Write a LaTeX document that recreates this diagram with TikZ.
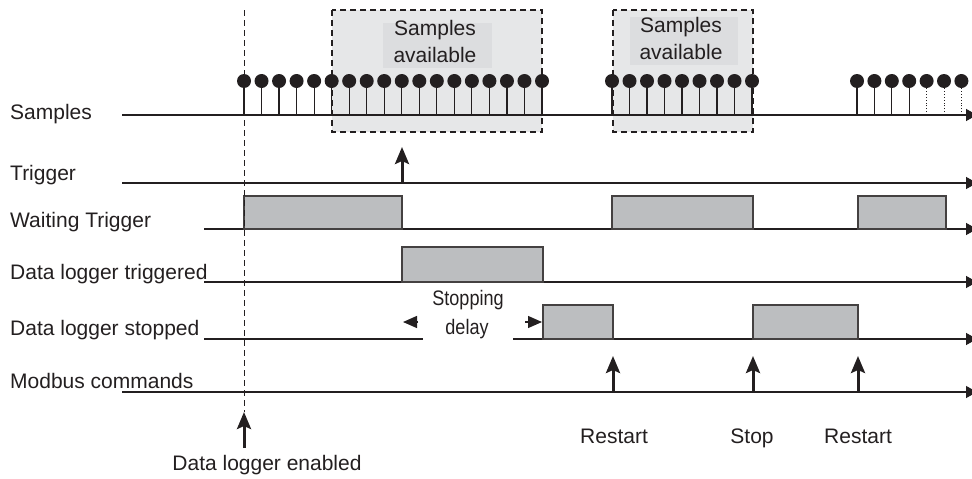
\documentclass[tikz,border=0pt]{standalone}
\usepackage{fontspec}
\setmainfont{Liberation Sans}
\usetikzlibrary{arrows.meta}
\definecolor{ink}{HTML}{231F20}
\definecolor{boxgray}{HTML}{BCBEC0}
\definecolor{availgray}{HTML}{E6E7E8}
\definecolor{innergray}{HTML}{DCDDDF}
\begin{document}
\begin{tikzpicture}[x=1pt,y=-1pt,
  lbl/.style={anchor=base west, inner sep=0pt, font=\fontsize{21}{25}\selectfont, text=ink},
  ctr/.style={anchor=base, inner sep=0pt, font=\fontsize{21}{25}\selectfont, text=ink},
  narrow/.style={anchor=base, inner sep=0pt, font=\fontsize{21}{25}\selectfont, text=ink, xscale=0.86},
  axisline/.style={draw=ink, line width=1.3pt, -{Triangle[length=11pt,width=12pt]}},
  plainline/.style={draw=ink, line width=1.3pt},
  pulse/.style={draw=ink!85, fill=boxgray, line width=1.3pt},
  evarrow/.style={draw=ink, line width=3pt, -{Stealth[length=17pt,width=14pt,inset=3pt]}},
  availbox/.style={draw=ink, fill=availgray, line width=1.8pt, dash pattern=on 6pt off 4pt},
  innerbox/.style={fill=innergray, draw=none},
  stem/.style={draw=ink, line width=1.2pt},
  dotstem/.style={draw=ink, line width=0.9pt, dotted},
  dot/.style={fill=ink},
  smalltip/.style={-{Triangle[length=14pt,width=12pt]}, draw=ink, line width=1.3pt}
]
\useasboundingbox (0,0) rectangle (972,479);

% ---- Samples available regions ----
\path[availbox] (332,10) rectangle (542,132);
\path[innerbox] (383,23) rectangle (492,68);
\node[ctr] (sa1a) at (435,35) {Samples};
\node[ctr] (sa1b) at (435,62) {available};
\path[availbox] (613,10) rectangle (753,132);
\path[innerbox] (630,17) rectangle (738,65);
\node[ctr] (sa2a) at (681,32) {Samples};
\node[ctr] (sa2b) at (681,59) {available};

% ---- row labels ----
\node[lbl] (lsamp) at (10,119) {Samples};
\node[lbl] (ltrig) at (10,180) {Trigger};
\node[lbl] (lwait) at (10,227) {Waiting Trigger};
\node[lbl] (ltrd)  at (10,279) {Data logger triggered};
\node[lbl] (lstop) at (10,335) {Data logger stopped};
\node[lbl] (lmod)  at (10,388) {Modbus commands};

% ---- axis coordinates ----
\coordinate (s0) at (122,115);  \coordinate (s1) at (977,115);
\coordinate (t0) at (122,183);  \coordinate (t1) at (977,183);
\coordinate (w0) at (204,229);  \coordinate (w1) at (977,229);
\coordinate (d0) at (204,282);  \coordinate (d1) at (977,282);
\coordinate (p0) at (204,339);  \coordinate (pa) at (423,339);
\coordinate (pb) at (513,339);  \coordinate (p1) at (977,339);
\coordinate (m0) at (122,392);  \coordinate (m1) at (977,392);

\draw[axisline] (s0) -- (s1);
\draw[axisline] (t0) -- (t1);
\draw[axisline] (w0) -- (w1);
\draw[axisline] (d0) -- (d1);
\draw[plainline] (p0) -- (pa);
\draw[axisline] (pb) -- (p1);
\draw[axisline] (m0) -- (m1);

% ---- samples ----
\foreach \i in {0,...,17} {
  \pgfmathsetmacro{\xx}{244+17.53*\i}
  \draw[stem] (\xx,115) -- (\xx,81);
  \fill[dot] (\xx,81) circle (7);
}
\foreach \i in {0,...,8} {
  \pgfmathsetmacro{\xx}{612+17.5*\i}
  \draw[stem] (\xx,115) -- (\xx,81);
  \fill[dot] (\xx,81) circle (7);
}
\foreach \i in {0,...,3} {
  \pgfmathsetmacro{\xx}{857+17.4*\i}
  \draw[stem] (\xx,115) -- (\xx,81);
  \fill[dot] (\xx,81) circle (7);
}
\foreach \i in {4,...,6} {
  \pgfmathsetmacro{\xx}{857+17.4*\i}
  \draw[dotstem] (\xx,115) -- (\xx,81);
  \fill[dot] (\xx,81) circle (7);
}

% ---- pulses ----
\path[pulse] (244,196) rectangle (402,229);
\path[pulse] (612,196) rectangle (753,229);
\path[pulse] (858,196) rectangle (946,229);
\path[pulse] (402,247) rectangle (543,282);
\path[pulse] (543,305) rectangle (613,339);
\path[pulse] (753,305) rectangle (858,339);

% ---- stopping delay ----
\node[narrow] (sd1) at (468,305) {Stopping};
\node[narrow] (sd2) at (467,334) {delay};
\coordinate (la0) at (418,322); \coordinate (la1) at (403,322);
\coordinate (ra0) at (525,322); \coordinate (ra1) at (542,322);
\draw[smalltip] (la0) -- (la1);
\draw[smalltip] (ra0) -- (ra1);

% ---- dashed enable line ----
\coordinate (en0) at (244,10); \coordinate (en1) at (244,412);
\draw[draw=ink, line width=1pt, dash pattern=on 6pt off 4pt] (en0) -- (en1);

% ---- event arrows ----
\coordinate (tr0) at (402,183); \coordinate (tr1) at (402,147);
\draw[evarrow] (tr0) -- (tr1);
\coordinate (e0) at (244,448); \coordinate (e1) at (244,412);
\draw[evarrow] (e0) -- (e1);
\foreach \n/\xx in {r1/613, st/753, r2/858} {
  \coordinate (\n0) at (\xx,392); \coordinate (\n1) at (\xx,356);
  \draw[evarrow] (\n0) -- (\n1);
}

% ---- bottom labels ----
\node[ctr] (lrs1) at (614,443) {Restart};
\node[ctr] (lst)  at (752,443) {Stop};
\node[ctr] (lrs2) at (858,443) {Restart};
\node[ctr] (lena) at (267,470) {Data logger enabled};
\end{tikzpicture}
\end{document}
